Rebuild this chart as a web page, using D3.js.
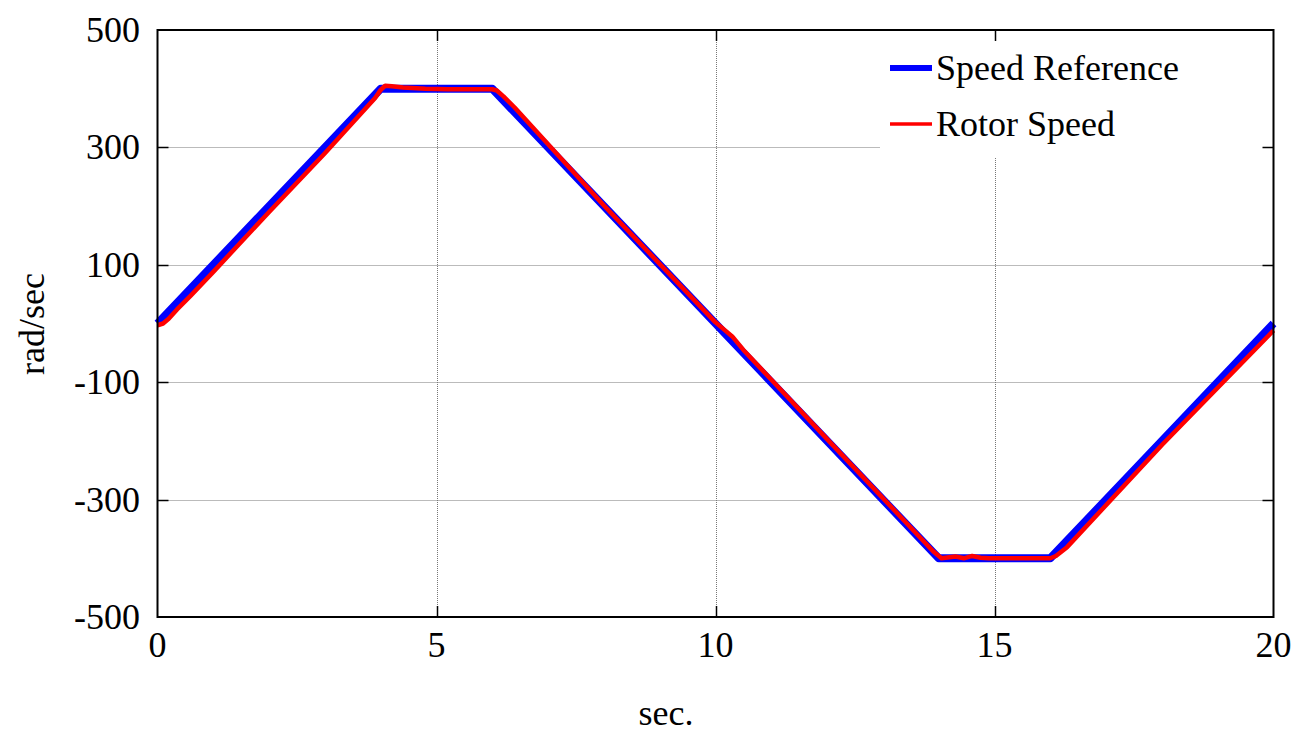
<!DOCTYPE html>
<html>
<head>
<meta charset="utf-8">
<script src="https://cdn.jsdelivr.net/npm/d3@7"></script>
<style>
  html, body { margin: 0; padding: 0; background: #fff; }
  svg { display: block; }
</style>
</head>
<body>
<svg id="chart" width="1302" height="732" font-family="'Liberation Serif', 'Times New Roman', Times, 'DejaVu Serif', serif"></svg>
<script>
// Speed reference profile (sec., rad/sec)
const refTime  = [0, 4, 6, 14, 16, 20];
const refSpeed = [0, 400, 400, -400, -400, 0];

// Measured rotor speed (sec., rad/sec)
const rotorTime  = [0, 0.1, 0.2, 0.35, 0.6, 1.0, 2.0, 3.0, 3.9, 4.0, 4.08, 4.2, 4.4, 4.8, 5.2, 6.0, 6.08, 6.2, 6.4,
                    8.0, 10.0, 10.15, 10.3, 10.5, 12.0, 13.9, 14.05, 14.3, 14.45, 14.6, 14.75, 14.9,
                    16.0, 16.1, 16.3, 18.0, 20.0];
const rotorSpeed = [-3, 0, 8, 24, 48, 88, 190, 290, 384, 398, 405, 404, 402, 400, 399, 399, 397, 387, 368,
                    201, 2, -10, -22, -45, -197, -388, -400, -397, -400, -396, -399, -400,
                    -400, -396, -381, -207, -12];

const xTicks = [0, 5, 10, 15, 20];
const yTicks = [-500, -300, -100, 100, 300, 500];

const seriesNames = ["Speed Reference", "Rotor Speed"];
const seriesColors = ["#0000ff", "#ff0000"];

const svg = d3.select("#chart");
const plotL = 157.5, plotR = 1273.5, plotT = 30, plotB = 617;

const x = d3.scaleLinear().domain([0, 20]).range([plotL, plotR]);
const y = d3.scaleLinear().domain([-500, 500]).range([plotB, plotT]);

// grid
const grid = svg.append("g");
grid.selectAll(".gx").data(xTicks.slice(1, -1)).enter().append("line")
  .attr("x1", d => Math.round(x(d)) + 0.5).attr("x2", d => Math.round(x(d)) + 0.5)
  .attr("y1", plotT).attr("y2", plotB)
  .attr("stroke", "#777").attr("stroke-width", 1).attr("stroke-dasharray", "1,1");
grid.selectAll(".gy").data(yTicks.slice(1, -1)).enter().append("line")
  .attr("y1", d => Math.round(y(d)) + 0.5).attr("y2", d => Math.round(y(d)) + 0.5)
  .attr("x1", plotL).attr("x2", plotR)
  .attr("stroke", "#777").attr("stroke-width", 1).attr("stroke-dasharray", "1,1");

// legend background covers the grid
svg.append("rect").attr("x", 880).attr("y", plotT + 1).attr("width", 390).attr("height", 127).attr("fill", "#fff");

// curves
const line = d3.line().x(d => x(d[0])).y(d => y(d[1]));
const refData = refTime.map((t, i) => [t, refSpeed[i]]);
const rotorData = rotorTime.map((t, i) => [t, rotorSpeed[i]]);

svg.append("path").datum(refData).attr("d", line)
  .attr("fill", "none").attr("stroke", seriesColors[0]).attr("stroke-width", 8)
  .attr("stroke-linejoin", "round");
svg.append("path").datum(rotorData).attr("d", line)
  .attr("fill", "none").attr("stroke", seriesColors[1]).attr("stroke-width", 4.5)
  .attr("stroke-linejoin", "round");

// frame
svg.append("rect").attr("x", plotL).attr("y", plotT).attr("width", plotR - plotL).attr("height", plotB - plotT)
  .attr("fill", "none").attr("stroke", "#000").attr("stroke-width", 2);

// ticks (inward on all sides)
const tl = 11;
const tk = svg.append("g").attr("stroke", "#000").attr("stroke-width", 1.5);
xTicks.slice(1, -1).forEach(d => {
  const px = Math.round(x(d)) + 0.5;
  tk.append("line").attr("x1", px).attr("x2", px).attr("y1", plotB).attr("y2", plotB - tl);
  tk.append("line").attr("x1", px).attr("x2", px).attr("y1", plotT).attr("y2", plotT + tl);
});
yTicks.slice(1, -1).forEach(d => {
  const py = Math.round(y(d)) + 0.5;
  tk.append("line").attr("y1", py).attr("y2", py).attr("x1", plotL).attr("x2", plotL + tl);
  tk.append("line").attr("y1", py).attr("y2", py).attr("x1", plotR).attr("x2", plotR - tl);
});

// tick labels
const fs = 36;
svg.selectAll(".xl").data(xTicks).enter().append("text")
  .attr("x", d => x(d)).attr("y", 657).attr("text-anchor", "middle")
  .attr("font-size", fs).text(d => d);
svg.selectAll(".yl").data(yTicks).enter().append("text")
  .attr("x", 140).attr("y", d => y(d) + 12).attr("text-anchor", "end")
  .attr("font-size", fs).text(d => d);

// axis titles
svg.append("text").attr("x", 666).attr("y", 725).attr("text-anchor", "middle")
  .attr("font-size", fs).text("sec.");
svg.append("text").attr("transform", "translate(44,324) rotate(-90)").attr("text-anchor", "middle")
  .attr("font-size", fs).text("rad/sec");

// legend
const lg = svg.append("g");
const legendY = [68, 124];
const legendW = [6, 3.5];
seriesNames.forEach((name, i) => {
  lg.append("line").attr("x1", 890).attr("x2", 932).attr("y1", legendY[i]).attr("y2", legendY[i])
    .attr("stroke", seriesColors[i]).attr("stroke-width", legendW[i]);
  lg.append("text").attr("x", 936).attr("y", legendY[i] + 12).attr("font-size", fs).text(name);
});
</script>
</body>
</html>
